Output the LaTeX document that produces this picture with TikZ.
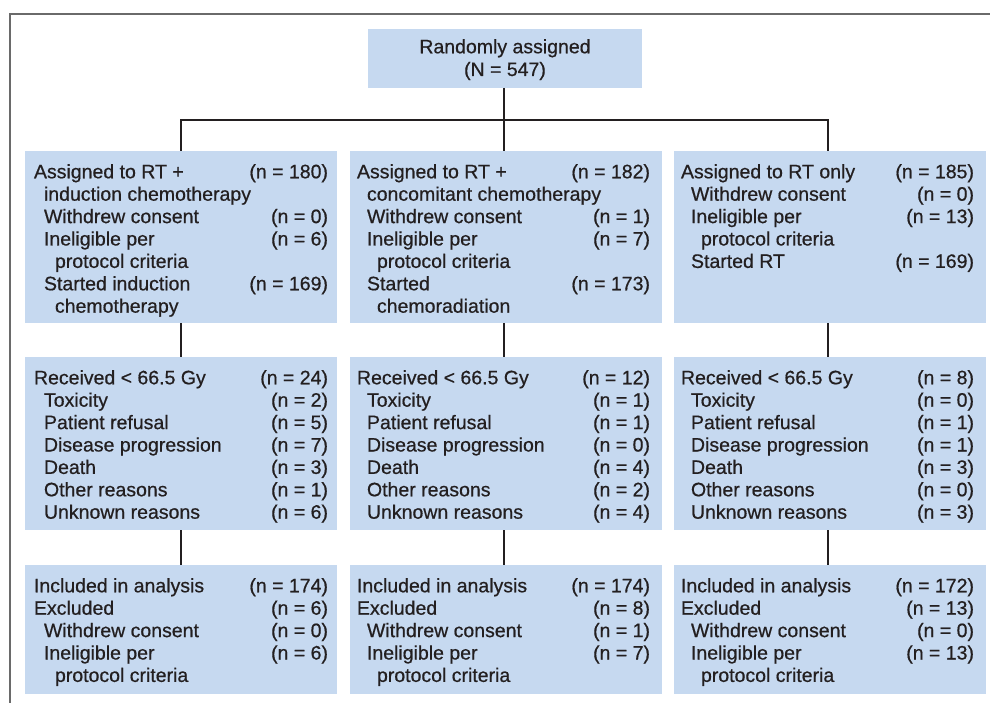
\documentclass[tikz,border=0pt]{standalone}
\usepackage{fontspec}
\setmainfont{Liberation Sans}[FakeBold=0.6]
\definecolor{boxblue}{HTML}{C6D9F0}
\definecolor{txtcol}{HTML}{231F20}
\definecolor{framegray}{HTML}{6A6A6A}
\newcommand{\ent}[6]{%
  \node[lbl,anchor=base west] (#1) at (#2,#4) {#5};
  \node[lbl,anchor=base east] (#1n) at (#3,#4) {#6};}
\newcommand{\entl}[4]{%
  \node[lbl,anchor=base west] (#1) at (#2,#3) {#4};}
\begin{document}
\begin{tikzpicture}[x=1pt,y=-1pt,
  lbl/.style={inner sep=0pt,outer sep=0pt,text=txtcol,font=\fontsize{19.5}{22}\selectfont},
  bx/.style={fill=boxblue,draw=none,inner sep=0pt,outer sep=0pt,anchor=north west,minimum width=312pt},
  conn/.style={draw=txtcol,line width=2.9pt},
  frame/.style={draw=framegray,line width=1.6pt}]
\useasboundingbox (0,0) rectangle (990,703);
\draw[frame] (10,703) -- (10,14) -- (990,14);
% boxes
\node[bx,minimum width=274pt,minimum height=59pt] (rand) at (368,29) {};
\node[bx,minimum height=172pt] (a1) at (25,151) {};
\node[bx,minimum height=172pt] (a2) at (350,151) {};
\node[bx,minimum height=172pt] (a3) at (674,151) {};
\node[bx,minimum height=173pt] (b1) at (25,357) {};
\node[bx,minimum height=173pt] (b2) at (350,357) {};
\node[bx,minimum height=173pt] (b3) at (674,357) {};
\node[bx,minimum height=129pt] (c1) at (25,565) {};
\node[bx,minimum height=129pt] (c2) at (350,565) {};
\node[bx,minimum height=129pt] (c3) at (674,565) {};
% connectors
\coordinate (j) at (504,120);
\coordinate (k1) at (181,120);
\coordinate (k3) at (828,120);
\draw[conn] (rand.south -| j) -- (j);
\draw[conn] (a1.north -| k1) -- (k1) -- (k3) -- (a3.north -| k3);
\draw[conn] (j) -- (a2.north -| j);
\draw[conn] (a1.south -| k1) -- (b1.north -| k1);
\draw[conn] (a2.south -| j) -- (b2.north -| j);
\draw[conn] (a3.south -| k3) -- (b3.north -| k3);
\draw[conn] (b1.south -| k1) -- (c1.north -| k1);
\draw[conn] (b2.south -| j) -- (c2.north -| j);
\draw[conn] (b3.south -| k3) -- (c3.north -| k3);
% top text
\node[lbl,anchor=base] (rt1) at (505,53.3) {Randomly assigned};
\node[lbl,anchor=base] (rt2) at (505,76) {(N = 547)};
% row 1 col 1
\ent{a1l1}{34}{328}{178.3}{Assigned to RT +}{(n = 180)}
\entl{a1l2}{44}{200.7}{induction chemotherapy}
\ent{a1l3}{44}{328}{223.1}{Withdrew consent}{(n = 0)}
\ent{a1l4}{44}{328}{245.5}{Ineligible per}{(n = 6)}
\entl{a1l5}{55}{267.9}{protocol criteria}
\ent{a1l6}{44}{328}{290.3}{Started induction}{(n = 169)}
\entl{a1l7}{55}{312.7}{chemotherapy}
% row 1 col 2
\ent{a2l1}{357}{650}{178.3}{Assigned to RT +}{(n = 182)}
\entl{a2l2}{367}{200.7}{concomitant chemotherapy}
\ent{a2l3}{367}{650}{223.1}{Withdrew consent}{(n = 1)}
\ent{a2l4}{367}{650}{245.5}{Ineligible per}{(n = 7)}
\entl{a2l5}{377}{267.9}{protocol criteria}
\ent{a2l6}{367}{650}{290.3}{Started}{(n = 173)}
\entl{a2l7}{377}{312.7}{chemoradiation}
% row 1 col 3
\ent{a3l1}{681}{974}{178.3}{Assigned to RT only}{(n = 185)}
\ent{a3l2}{691}{974}{200.7}{Withdrew consent}{(n = 0)}
\ent{a3l3}{691}{974}{223.1}{Ineligible per}{(n = 13)}
\entl{a3l4}{701}{245.5}{protocol criteria}
\ent{a3l5}{691}{974}{267.9}{Started RT}{(n = 169)}
% row 2 col 1
\ent{b1l1}{34}{328}{384.3}{Received < 66.5 Gy}{(n = 24)}
\ent{b1l2}{44}{328}{406.7}{Toxicity}{(n = 2)}
\ent{b1l3}{44}{328}{429.1}{Patient refusal}{(n = 5)}
\ent{b1l4}{44}{328}{451.5}{Disease progression}{(n = 7)}
\ent{b1l5}{44}{328}{473.9}{Death}{(n = 3)}
\ent{b1l6}{44}{328}{496.3}{Other reasons}{(n = 1)}
\ent{b1l7}{44}{328}{518.7}{Unknown reasons}{(n = 6)}
% row 2 col 2
\ent{b2l1}{357}{650}{384.3}{Received < 66.5 Gy}{(n = 12)}
\ent{b2l2}{367}{650}{406.7}{Toxicity}{(n = 1)}
\ent{b2l3}{367}{650}{429.1}{Patient refusal}{(n = 1)}
\ent{b2l4}{367}{650}{451.5}{Disease progression}{(n = 0)}
\ent{b2l5}{367}{650}{473.9}{Death}{(n = 4)}
\ent{b2l6}{367}{650}{496.3}{Other reasons}{(n = 2)}
\ent{b2l7}{367}{650}{518.7}{Unknown reasons}{(n = 4)}
% row 2 col 3
\ent{b3l1}{681}{974}{384.3}{Received < 66.5 Gy}{(n = 8)}
\ent{b3l2}{691}{974}{406.7}{Toxicity}{(n = 0)}
\ent{b3l3}{691}{974}{429.1}{Patient refusal}{(n = 1)}
\ent{b3l4}{691}{974}{451.5}{Disease progression}{(n = 1)}
\ent{b3l5}{691}{974}{473.9}{Death}{(n = 3)}
\ent{b3l6}{691}{974}{496.3}{Other reasons}{(n = 0)}
\ent{b3l7}{691}{974}{518.7}{Unknown reasons}{(n = 3)}
% row 3 col 1
\ent{c1l1}{34}{328}{592.3}{Included in analysis}{(n = 174)}
\ent{c1l2}{34}{328}{614.7}{Excluded}{(n = 6)}
\ent{c1l3}{44}{328}{637.1}{Withdrew consent}{(n = 0)}
\ent{c1l4}{44}{328}{659.5}{Ineligible per}{(n = 6)}
\entl{c1l5}{55}{681.9}{protocol criteria}
% row 3 col 2
\ent{c2l1}{357}{650}{592.3}{Included in analysis}{(n = 174)}
\ent{c2l2}{357}{650}{614.7}{Excluded}{(n = 8)}
\ent{c2l3}{367}{650}{637.1}{Withdrew consent}{(n = 1)}
\ent{c2l4}{367}{650}{659.5}{Ineligible per}{(n = 7)}
\entl{c2l5}{377}{681.9}{protocol criteria}
% row 3 col 3
\ent{c3l1}{681}{974}{592.3}{Included in analysis}{(n = 172)}
\ent{c3l2}{681}{974}{614.7}{Excluded}{(n = 13)}
\ent{c3l3}{691}{974}{637.1}{Withdrew consent}{(n = 0)}
\ent{c3l4}{691}{974}{659.5}{Ineligible per}{(n = 13)}
\entl{c3l5}{701}{681.9}{protocol criteria}
\end{tikzpicture}
\end{document}
